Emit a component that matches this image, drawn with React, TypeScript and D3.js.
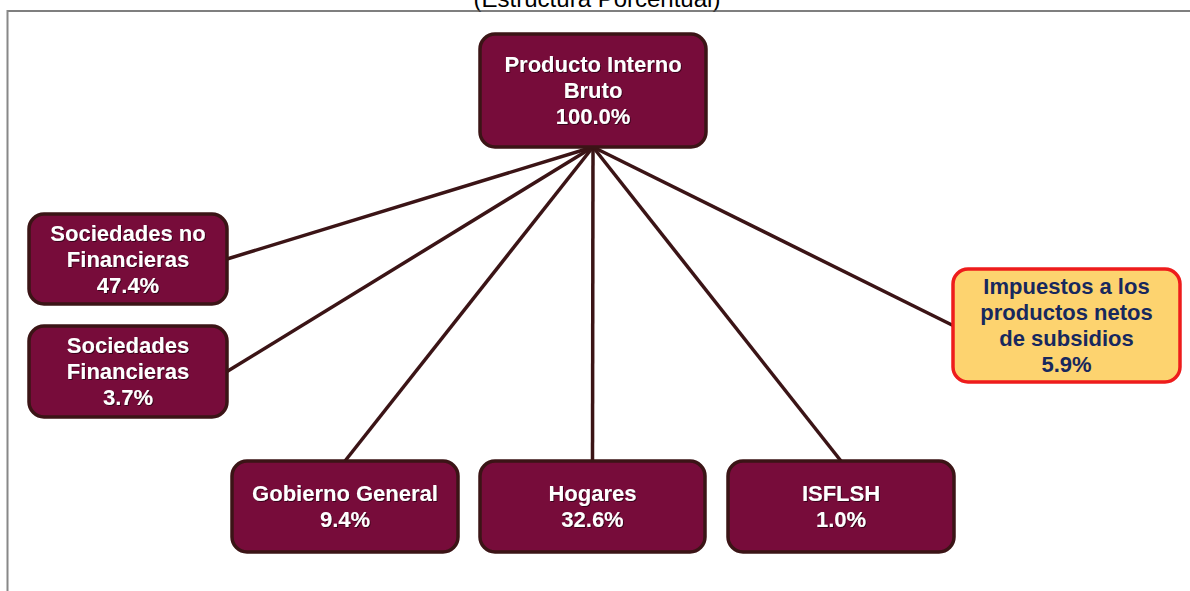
import React from "react";
import * as d3 from "d3";

const TITLE = "(Estructura Porcentual)";

// Tree data
const rootLabel = ["Producto Interno", "Bruto"];
const rootValue = 100.0;
const childLabels: string[][] = [
  ["Sociedades no", "Financieras"],
  ["Sociedades", "Financieras"],
  ["Gobierno General"],
  ["Hogares"],
  ["ISFLSH"],
  ["Impuestos a los", "productos netos", "de subsidios"],
];
const childValues = [47.4, 3.7, 9.4, 32.6, 1.0, 5.9];
const childIds = ["snf", "sf", "gg", "hog", "isf", "imp"];

// Layout (box left, top, right, bottom; anchor side for the link)
const layout: Record<string, { x0: number; y0: number; x1: number; y1: number; side: string }> = {
  root: { x0: 480, y0: 34, x1: 706, y1: 147, side: "bottom" },
  snf: { x0: 29, y0: 214, x1: 227, y1: 304, side: "right" },
  sf: { x0: 29, y0: 326, x1: 227, y1: 417, side: "right" },
  gg: { x0: 232, y0: 461, x1: 458, y1: 552, side: "top" },
  hog: { x0: 480, y0: 461, x1: 705, y1: 552, side: "top" },
  isf: { x0: 728, y0: 461, x1: 954, y1: 552, side: "top" },
  imp: { x0: 953, y0: 269, x1: 1180, y1: 382, side: "left" },
};

const MAROON = "#770c3a";
const DARK = "#3b1416";
const FONT = "Arial, 'Liberation Sans', Helvetica, sans-serif";

type NodeDatum = { id: string; lines: string[]; value: number; children?: NodeDatum[] };

const treeData: NodeDatum = {
  id: "root",
  lines: rootLabel,
  value: rootValue,
  children: childIds.map((id, i) => ({ id, lines: childLabels[i], value: childValues[i] })),
};

const fmt = d3.format(".1f");

function anchor(id: string): [number, number] {
  const b = layout[id];
  const cx = (b.x0 + b.x1) / 2;
  const cy = (b.y0 + b.y1) / 2;
  if (b.side === "bottom") return [cx, b.y1];
  if (b.side === "top") return [cx, b.y0];
  if (b.side === "left") return [b.x0, cy];
  return [b.x1, cy];
}

export default function App() {
  const root = d3.hierarchy<NodeDatum>(treeData);
  const nodes = root.descendants();
  const links = root.links();
  const lineGen = d3.line();
  const LH = 26;
  const FS = 22;

  return (
    <svg
      width={1190}
      height={591}
      style={{ position: "absolute", left: 0, top: 0, background: "#fff", fontFamily: FONT }}
    >
      <defs>
        <filter id="ts" x="-10%" y="-30%" width="120%" height="160%">
          <feDropShadow dx="1" dy="1" stdDeviation="0.6" floodColor="#200008" floodOpacity="0.75" />
        </filter>
      </defs>
      <rect x={0} y={0} width={1190} height={591} fill="#fff" />
      <text x={597} y={7} textAnchor="middle" fontSize={24} fill="#000" style={{ fontFamily: FONT }}>
        {TITLE}
      </text>
      <line x1={7} y1={11} x2={1190} y2={11} stroke="#555" strokeWidth={1.5} />
      <line x1={7.5} y1={10} x2={7.5} y2={591} stroke="#888" strokeWidth={2} />

      {links.map((l, i) => {
        const s = anchor(l.source.data.id);
        const t = anchor(l.target.data.id);
        return (
          <path key={i} d={lineGen([s, t]) || ""} stroke={DARK} strokeWidth={3.5} fill="none" />
        );
      })}

      {nodes.map((n) => {
        const b = layout[n.data.id];
        const isImp = n.data.id === "imp";
        const lines = [...n.data.lines, fmt(n.data.value) + "%"];
        const cy = (b.y0 + b.y1) / 2;
        const cx = (b.x0 + b.x1) / 2;
        return (
          <g key={n.data.id}>
            <rect
              x={b.x0}
              y={b.y0}
              width={b.x1 - b.x0}
              height={b.y1 - b.y0}
              rx={15}
              ry={15}
              fill={isImp ? "#fdd36f" : MAROON}
              stroke={isImp ? "#ee1c1c" : DARK}
              strokeWidth={3.5}
            />
            {lines.map((ln, i) => (
              <text
                key={i}
                x={cx}
                y={cy + 7.5 + (i - (lines.length - 1) / 2) * LH}
                textAnchor="middle"
                fontSize={FS}
                fontWeight="bold"
                fill={isImp ? "#17285e" : "#ffffff"}
                filter={isImp ? undefined : "url(#ts)"}
                style={{ fontFamily: FONT }}
              >
                {ln}
              </text>
            ))}
          </g>
        );
      })}
    </svg>
  );
}
